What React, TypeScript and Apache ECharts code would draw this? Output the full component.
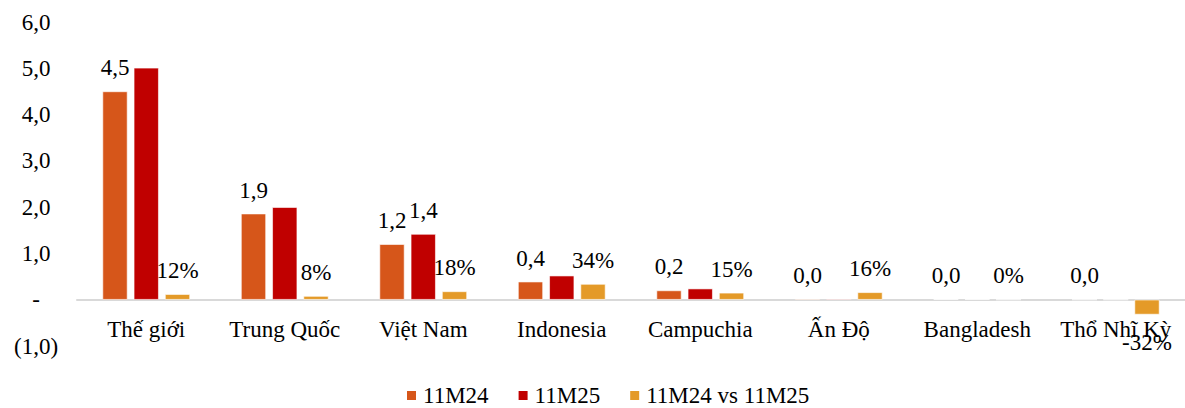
import React, { useEffect, useRef } from "react";
import * as echarts from "echarts";

const categories = ["Thế giới", "Trung Quốc", "Việt Nam", "Indonesia", "Campuchia", "Ấn Độ", "Bangladesh", "Thổ Nhĩ Kỳ"];
const values11M24 = [4.5, 1.86, 1.2, 0.39, 0.2, 0.02, 0.01, 0.0];
const values11M25 = [5.01, 2.0, 1.42, 0.52, 0.24, 0.02, 0.01, 0.0];
const growthPct = [0.12, 0.08, 0.18, 0.34, 0.15, 0.16, 0.0, -0.32];
const seriesNames = ["11M24", "11M25", "11M24 vs 11M25"];
const colors = ["#D6561A", "#C00000", "#E49A28"];
const labelled11M25 = [2];

const FONT = "'Liberation Serif', 'Times New Roman', serif";
const FS = 23;

const fmtNum = (v: number) => v.toFixed(1).replace(".", ",");

export default function App() {
  const ref = useRef<HTMLDivElement>(null);
  useEffect(() => {
    if (!ref.current) return;
    const chart = echarts.init(ref.current, null, { renderer: "svg" });
    const labelBase = { color: "#000", fontFamily: FONT, fontSize: FS };
    chart.setOption({
      animation: false,
      textStyle: { fontFamily: FONT },
      grid: { left: 77, right: -14, top: 22, bottom: 62, containLabel: false },
      legend: {
        data: seriesNames,
        left: 405,
        top: 384,
        padding: 0,
        icon: "rect",
        itemWidth: 11,
        itemHeight: 11,
        itemGap: 28,
        textStyle: { color: "#000", fontFamily: FONT, fontSize: FS, padding: [0, 0, 0, 1] },
      },
      xAxis: {
        type: "category",
        data: categories,
        axisLine: { onZero: true, lineStyle: { color: "#d9d9d9", width: 2 } },
        axisTick: { show: false },
        axisLabel: { color: "#000", fontFamily: FONT, fontSize: FS, margin: -28, interval: 0 },
      },
      yAxis: {
        type: "value",
        min: -1,
        max: 6,
        interval: 1,
        splitLine: { show: false },
        axisLine: { show: false },
        axisTick: { show: false },
        axisLabel: {
          color: "#000",
          fontFamily: FONT,
          fontSize: FS,
          align: "center",
          margin: 41,
          formatter: (v: number) => (v === 0 ? "-" : v < 0 ? "(" + fmtNum(Math.abs(v)) + ")" : fmtNum(v)),
        },
      },
      series: [
        {
          name: seriesNames[0],
          type: "bar",
          barWidth: 25,
          barGap: "25%",
          data: values11M24,
          itemStyle: { color: colors[0], borderColor: "#fff", borderWidth: 0.6 },
          label: { show: true, position: "top", distance: 12, ...labelBase, formatter: (p: any) => fmtNum(p.value) },
        },
        {
          name: seriesNames[1],
          type: "bar",
          barWidth: 25,
          barGap: "25%",
          data: values11M25.map((v, i) => ({
            value: v,
            label: { show: labelled11M25.includes(i) },
          })),
          itemStyle: { color: colors[1], borderColor: "#fff", borderWidth: 0.6 },
          label: { show: false, position: "top", distance: 12, ...labelBase, formatter: (p: any) => fmtNum(p.value) },
        },
        {
          name: seriesNames[2],
          type: "bar",
          barWidth: 25,
          barGap: "25%",
          data: growthPct.map((v) => ({
            value: v,
            label: v < 0 ? { position: "bottom", distance: 16 } : undefined,
          })),
          itemStyle: { color: colors[2], borderColor: "#fff", borderWidth: 0.6 },
          label: {
            show: true,
            position: "top",
            distance: 12,
            ...labelBase,
            formatter: (p: any) => Math.round(p.value * 100) + "%",
          },
        },
      ],
    });
    return () => chart.dispose();
  }, []);
  return <div ref={ref} style={{ position: "absolute", left: 0, top: 0, width: 1185, height: 408 }} />;
}
